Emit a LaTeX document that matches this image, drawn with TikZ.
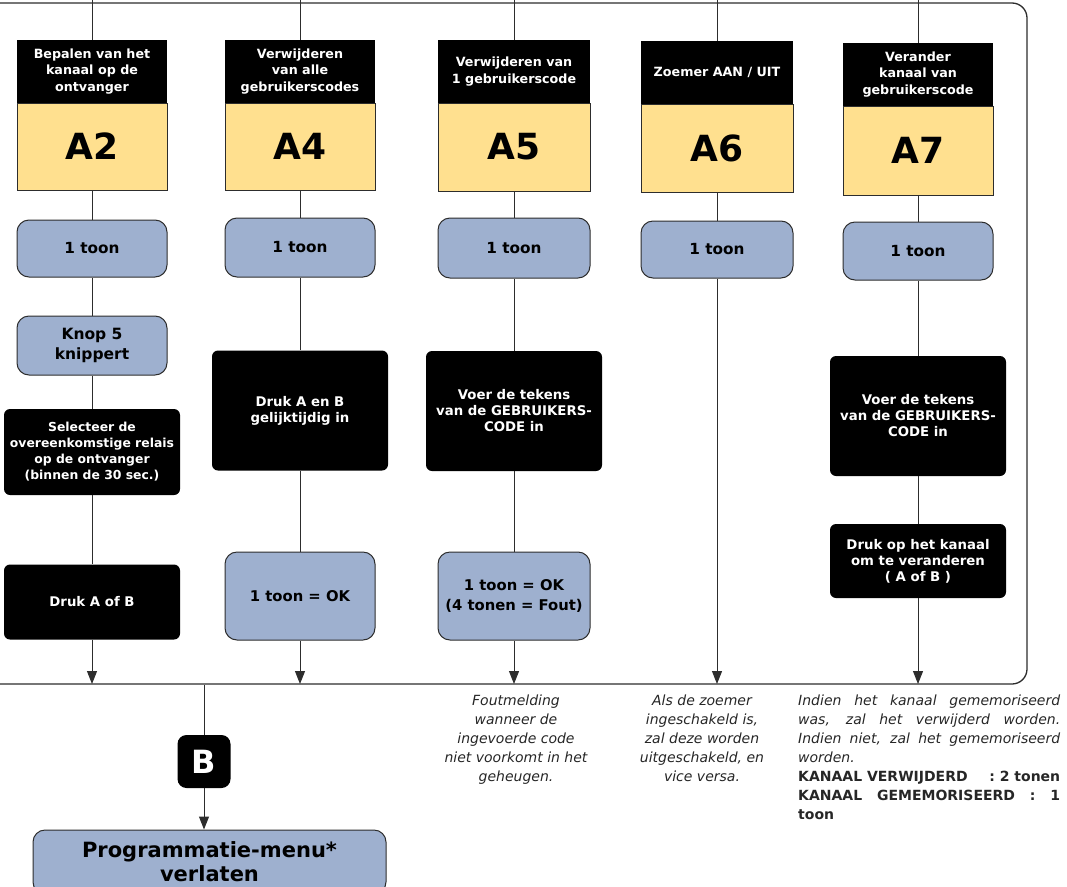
\documentclass[tikz,border=0pt]{standalone}
\usepackage{fontspec}
\setmainfont{DejaVu Sans}
\usetikzlibrary{arrows.meta}
\definecolor{bluc}{RGB}{158,176,207}
\definecolor{yelc}{RGB}{255,224,143}
\definecolor{linec}{RGB}{45,45,45}
\newcommand\fhdr{\fontsize{12.7}{16.5}\selectfont\bfseries}
\newcommand\fbig{\fontsize{36}{40}\selectfont\bfseries}
\newcommand\ftoon{\fontsize{15.3}{20}\selectfont\bfseries}
\newcommand\fblk{\fontsize{13.3}{16}\selectfont\bfseries}
\newcommand\fsel{\fontsize{12.4}{16}\selectfont\bfseries}
\newcommand\fnote{\fontsize{14}{19}\selectfont\itshape}
\newcommand\fnoteb{\fontsize{14}{19}\selectfont\upshape\bfseries}
\begin{document}
\begin{tikzpicture}[x=1pt,y=-1pt,
  hdr/.style={fill=black, text=white, font=\fhdr, align=center, minimum width=150pt, minimum height=63pt, inner sep=0pt},
  yel/.style={fill=yelc, draw=linec, line width=1pt, minimum width=150pt, font=\fbig, inner sep=0pt},
  blu/.style={fill=bluc, draw=linec, line width=1pt, rounded corners=12pt, align=center, font=\ftoon, inner sep=0pt, minimum width=150pt},
  blk/.style={fill=black, text=white, rounded corners=6pt, align=center, font=\fblk, inner sep=0pt, minimum width=176pt},
  conn/.style={draw=linec, line width=1pt},
  arr/.style={conn, -{Triangle[length=13pt,width=10pt]}},
  note/.style={font=\fnote, align=center, inner sep=0pt, text=black!85}
]
\useasboundingbox (0,0) rectangle (1067,886);
\clip (0,0) rectangle (1067,886);

% frame
\draw[draw=linec, line width=1.3pt, rounded corners=15pt] (-30,3) -- (1027,3) -- (1027,684) -- (-30,684);

% column 1 (A2)
\node[yel, minimum height=87pt] (y1) at (92,146.5) {A2};
\node[hdr] (h1) at (92,71.5) {Bepalen van het\\kanaal op de\\ontvanger};
\node[blu, minimum height=57pt] (t1) at (92,248.5) {1 toon};
\node[blu, minimum height=59pt, font=\fontsize{15.5}{20}\selectfont\bfseries] (k1) at (92,345.5) {Knop 5\\knippert};
\node[blk, minimum height=86pt, font=\fsel] (s1) at (92,452) {Selecteer de\\overeenkomstige relais\\op de ontvanger\\(binnen de 30 sec.)};
\node[blk, minimum height=75pt] (d1) at (92,602) {Druk A of B};
\coordinate (top1) at (92,0);
\coordinate (bot1) at (92,684);
\draw[conn] (top1) -- (h1.north);
\draw[conn] (y1.south) -- (t1.north);
\draw[conn] (t1.south) -- (k1.north);
\draw[conn] (k1.south) -- (s1.north);
\draw[conn] (s1.south) -- (d1.north);
\draw[arr] (d1.south) -- (bot1);

% column 2 (A4)
\node[yel, minimum height=87pt] (y2) at (300,146.5) {A4};
\node[hdr] (h2) at (300,71.5) {Verwijderen\\van alle\\gebruikerscodes};
\node[blu, minimum height=59pt] (t2) at (300,247.5) {1 toon};
\node[blk, minimum height=120pt] (d2) at (300,410.5) {Druk A en B\\gelijktijdig in};
\node[blu, minimum height=88pt, font=\fontsize{14.8}{20}\selectfont\bfseries] (o2) at (300,596) {1 toon = OK};
\coordinate (top2) at (300,0);
\coordinate (bot2) at (300,684);
\draw[conn] (top2) -- (h2.north);
\draw[conn] (y2.south) -- (t2.north);
\draw[conn] (t2.south) -- (d2.north);
\draw[conn] (d2.south) -- (o2.north);
\draw[arr] (o2.south) -- (bot2);

% column 3 (A5)
\node[yel, minimum height=88pt, minimum width=152pt] (y3) at (514,147) {A5};
\node[hdr, minimum width=152pt] (h3) at (514,71.5) {Verwijderen van\\1 gebruikerscode};
\node[blu, minimum height=60pt, minimum width=152pt] (t3) at (514,248) {1 toon};
\node[blk, minimum height=120pt] (v3) at (514,411) {Voer de tekens\\van de GEBRUIKERS-\\CODE in};
\node[blu, minimum height=88pt, minimum width=152pt, font=\fontsize{14.8}{20}\selectfont\bfseries] (o3) at (514,596) {1 toon = OK\\(4 tonen = Fout)};
\coordinate (top3) at (514,0);
\coordinate (bot3) at (514,684);
\draw[conn] (top3) -- (h3.north);
\draw[conn] (y3.south) -- (t3.north);
\draw[conn] (t3.south) -- (v3.north);
\draw[conn] (v3.south) -- (o3.north);
\draw[arr] (o3.south) -- (bot3);

% column 4 (A6)
\node[yel, minimum height=88pt, minimum width=152pt] (y4) at (717,148) {A6};
\node[hdr, minimum width=152pt] (h4) at (717,72.5) {Zoemer AAN / UIT};
\node[blu, minimum height=57pt, minimum width=152pt] (t4) at (717,249.5) {1 toon};
\coordinate (top4) at (717,0);
\coordinate (bot4) at (717,684);
\draw[conn] (top4) -- (h4.north);
\draw[conn] (y4.south) -- (t4.north);
\draw[arr] (t4.south) -- (bot4);

% column 5 (A7)
\node[yel, minimum height=89pt] (y5) at (918,150.5) {A7};
\node[hdr] (h5) at (918,74.5) {Verander\\kanaal van\\gebruikerscode};
\node[blu, minimum height=58pt] (t5) at (918,251) {1 toon};
\node[blk, minimum height=120pt] (v5) at (918,416) {Voer de tekens\\van de GEBRUIKERS-\\CODE in};
\node[blk, minimum height=74pt] (p5) at (918,561) {Druk op het kanaal\\om te veranderen\\( A of B )};
\coordinate (top5) at (918,0);
\coordinate (bot5) at (918,684);
\draw[conn] (top5) -- (h5.north);
\draw[conn] (y5.south) -- (t5.north);
\draw[conn] (t5.south) -- (v5.north);
\draw[conn] (v5.south) -- (p5.north);
\draw[arr] (p5.south) -- (bot5);

% exit
\coordinate (fb) at (204,685);
\node[fill=black, text=white, rounded corners=9pt, minimum width=53pt, minimum height=53pt, inner sep=0pt, font=\fontsize{32}{32}\selectfont\bfseries] (B) at (204,761.5) {B};
\node[blu, minimum width=353pt, minimum height=64pt, font=\fontsize{21}{24}\selectfont\bfseries] (prog) at (209.5,862) {Programmatie-menu*\\verlaten};
\draw[conn] (fb) -- (B.north);
\draw[arr] (B.south) -- (B.south |- prog.north);

% notes
\node[note, anchor=north] (n1) at (516,695) {Foutmelding\\wanneer de\\ingevoerde code\\niet voorkomt in het\\geheugen.};
\node[note, anchor=north] (n2) at (702,695) {Als de zoemer\\ingeschakeld is,\\zal deze worden\\uitgeschakeld, en\\vice versa.};
\node[note, anchor=north west, align=left] (n3) at (798,695) {%
\makebox[262pt][s]{Indien het kanaal gememoriseerd}\\
\makebox[262pt][s]{was, zal het verwijderd worden.}\\
\makebox[262pt][s]{Indien niet, zal het gememoriseerd}\\
worden.\\
{\fnoteb\makebox[262pt]{KANAAL VERWIJDERD\hfill: 2 tonen}}\\
{\fnoteb\makebox[262pt][s]{KANAAL GEMEMORISEERD : 1}}\\
{\fnoteb toon}};
\end{tikzpicture}
\end{document}
